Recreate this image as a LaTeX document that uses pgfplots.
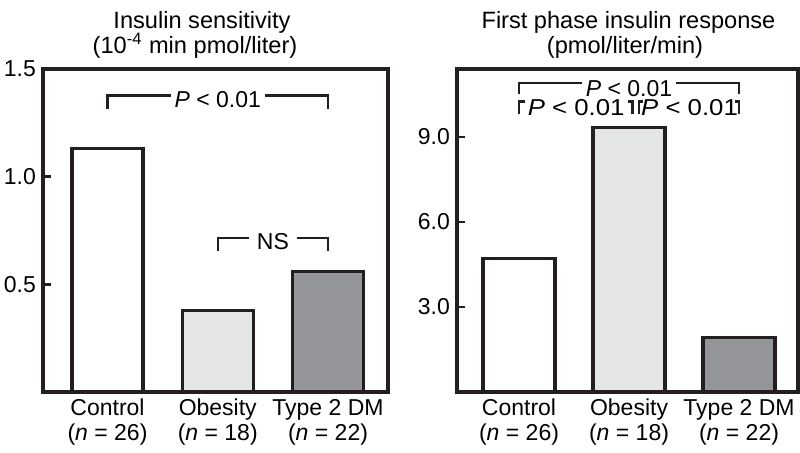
\documentclass[border=0pt]{standalone}
\usepackage{fontspec}
\setmainfont{Liberation Sans}
\newfontfamily\widefont[FakeStretch=1.12]{Liberation Sans}
\usepackage{pgfplots}
\pgfplotsset{compat=1.18}

\definecolor{ink}{HTML}{231F20}
\definecolor{lightbar}{HTML}{E4E5E7}
\definecolor{darkbar}{HTML}{939598}

\newcommand{\lbl}{\fontsize{11.5}{12.5}\selectfont}

\pgfplotsset{panel/.style={
    scale only axis, anchor=south west, height=161.5pt,
    ybar, bar shift=0pt,
    axis line style={ink, line width=1.6pt},
    ymin=0,
    xtick={0,1,2}, major x tick style={draw=none},
    xticklabels={{Control\\(\textit{n} = 26)},{Obesity\\(\textit{n} = 18)},{Type 2 DM\\(\textit{n} = 22)}},
    xticklabel style={align=center, font=\lbl},
    yticklabel style={font=\lbl},
    major y tick style={ink, line width=1.4pt},
    major tick length=4pt, tick align=inside, ytick pos=left,
    axis on top, clip=false,
    every axis plot/.append style={draw=ink, line width=1.6pt},
}}

\begin{document}
\begin{tikzpicture}
\useasboundingbox (0,0) rectangle (400pt,226pt);

% left panel
\begin{axis}[panel, at={(21.5pt,30pt)}, width=172.5pt,
    xmin=-0.585, xmax=2.544, ymax=1.5, bar width=35.5pt,
    ytick={0.5,1.0,1.5}, yticklabels={0.5,1.0,1.5}]
\addplot[fill=white] coordinates {(0,1.13)};
\addplot[fill=lightbar] coordinates {(1,0.38)};
\addplot[fill=darkbar] coordinates {(2,0.56)};
\draw[ink, line width=1.2pt] (axis cs:0,1.312) -- (axis cs:0,1.377) -- (axis cs:2,1.377) -- (axis cs:2,1.312);
\node[fill=white, inner sep=2pt, font=\lbl, yshift=-2pt] at (axis cs:1,1.377) {\textit{P} < 0.01};
\draw[ink, line width=1.2pt] (axis cs:1,0.654) -- (axis cs:1,0.715) -- (axis cs:2,0.715) -- (axis cs:2,0.654);
\node[fill=white, inner sep=4pt, font=\lbl, yshift=-2pt] at (axis cs:1.5,0.715) {NS};
\end{axis}

% right panel
\begin{axis}[panel, at={(228.5pt,30pt)}, width=170.5pt,
    xmin=-0.564, xmax=2.536, ymax=11.4, bar width=36pt,
    ytick={3,6,9}, yticklabels={3.0,6.0,9.0}]
\addplot[fill=white] coordinates {(0,4.71)};
\addplot[fill=lightbar] coordinates {(1,9.33)};
\addplot[fill=darkbar] coordinates {(2,1.91)};
\draw[ink, line width=1.2pt] (axis cs:0,10.52) -- (axis cs:0,10.9) -- (axis cs:2,10.9) -- (axis cs:2,10.52);
\node[fill=white, inner sep=2pt, font=\lbl, yshift=-2.5pt] at (axis cs:1,10.9) {\textit{P} < 0.01};
% small corner brackets of the second row
\begin{scope}[ink, line width=1.2pt]
\draw (axis cs:0,9.82) -- (axis cs:0,10.25) -- (axis cs:0.05,10.25);
\draw (axis cs:0.99,10.25) -- (axis cs:1.03,10.25) -- (axis cs:1.03,9.82);
\draw (axis cs:1.09,9.82) -- (axis cs:1.09,10.25) -- (axis cs:1.13,10.25);
\draw (axis cs:1.96,10.25) -- (axis cs:2,10.25) -- (axis cs:2,9.82);
\end{scope}
\node[inner sep=0pt, font=\widefont\lbl, yshift=-3pt] at (axis cs:0.52,10.25) {\textit{P} < 0.01};
\node[inner sep=0pt, font=\widefont\lbl, yshift=-3pt] at (axis cs:1.55,10.25) {\textit{P} < 0.01};
\end{axis}

% titles
\begin{scope}[every node/.style={anchor=base, font=\fontsize{11.8}{12.5}\selectfont}]
\node at (101pt,212pt) {Insulin sensitivity};
\node at (97.5pt,199.5pt) {(10\textsuperscript{-4} min pmol/liter)};
\node at (314.25pt,212pt) {First phase insulin response};
\node at (312.5pt,199.5pt) {(pmol/liter/min)};
\end{scope}
\end{tikzpicture}
\end{document}
